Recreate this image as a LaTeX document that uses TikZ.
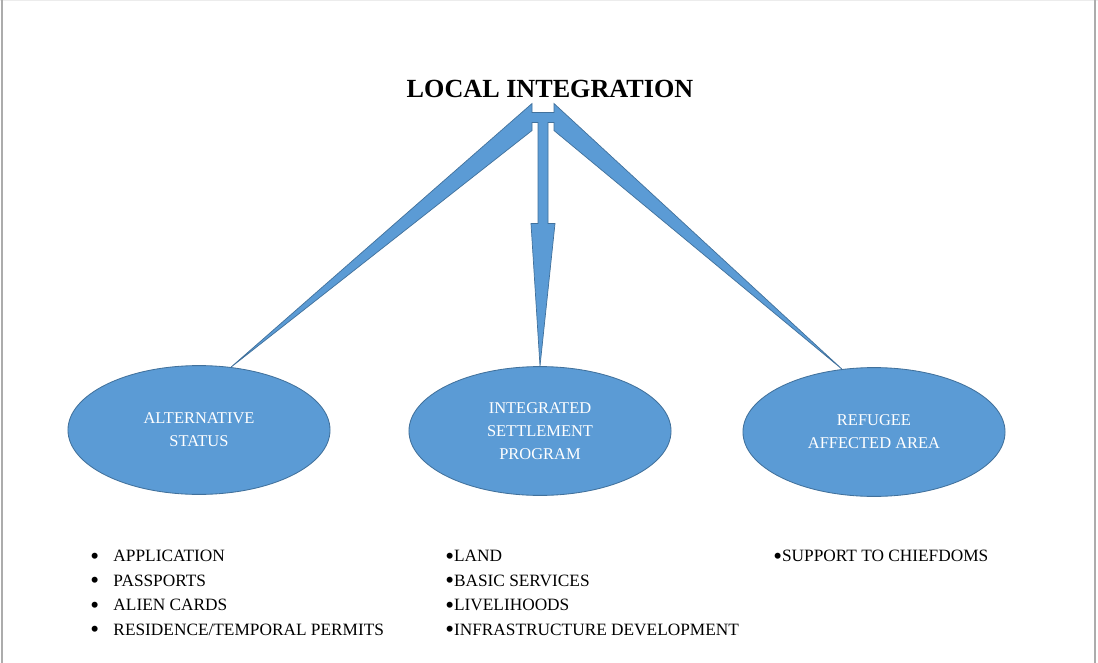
\documentclass[tikz,border=0pt]{standalone}
\usepackage{fontspec}
\setmainfont{Liberation Serif}
\usetikzlibrary{shapes.geometric,calc}
\definecolor{ovalblue}{HTML}{5B9BD5}
\definecolor{ovalline}{HTML}{41719C}
\newcommand{\dotmark}{\raisebox{-0.14em}{\scalebox{1.45}{\textbullet}}}

\begin{document}
\begin{tikzpicture}[x=0.025cm, y=-0.025cm,
			every node/.style = {inner sep=0pt},
			heading/.style = {font=\fontsize{18.6}{22}\selectfont\bfseries},
			bubble/.style = {ellipse, draw=ovalline, fill=ovalblue, line width=0.6pt,
				minimum width=6.55cm, minimum height=3.22cm, align=center,
				text=white, font=\fontsize{11.7}{16.5}\selectfont},
			spoke/.style = {draw=ovalline, fill=ovalblue, line width=0.5pt, line join=miter},
			items/.style = {align=left, anchor=north west, font=\fontsize{12.3}{17.4}\selectfont}]
			\useasboundingbox (0,0) rectangle (1098,663);
			\fill[white] (0,0) rectangle (1098,663);
			\draw[gray!15, line width=1pt] (0,0.5) -- (1098,0.5);
			\draw[gray!65, line width=2pt] (2,0) -- (2,663);
			\draw[gray!65, line width=2pt] (1095,0) -- (1095,663);

			\node[heading, anchor=base] (top) at (550,98) {LOCAL INTEGRATION};
			\node[bubble] (alt) at (199,430) {ALTERNATIVE\\STATUS};
			\node[bubble] (isp) at (540,431) {INTEGRATED\\SETTLEMENT\\PROGRAM};
			\node[bubble] (raa) at (874,432) {REFUGEE\\AFFECTED AREA};

			\coordinate (hub) at ($(top.south)+(-7,5)$);
			\filldraw[spoke] (alt.63) -- ($(hub)+(-11,0)$) -- ($(hub)+(-11,9)$)
				-- ($(hub)+(11,9)$) -- ($(hub)+(11,0)$) -- (raa.117)
				-- ($(hub)+(11,27)$) -- ($(hub)+(11,19)$) -- ($(hub)+(5,19)$) -- ($(hub)+(5,120)$)
				-- ($(hub)+(12,120)$) -- (isp.north) -- ($(hub)+(-12,120)$) -- ($(hub)+(-5,120)$)
				-- ($(hub)+(-5,19)$) -- ($(hub)+(-11,19)$) -- ($(hub)+(-11,27)$) -- cycle;

			\node[items] (altlist) at (90,550) {\makebox[16.5pt][l]{\dotmark}APPLICATION\\
				\makebox[16.5pt][l]{\dotmark}PASSPORTS\\
				\makebox[16.5pt][l]{\dotmark}ALIEN CARDS\\
				\makebox[16.5pt][l]{\dotmark}RESIDENCE/TEMPORAL PERMITS};
			\node[items] (isplist) at (445,550) {\dotmark LAND\\ \dotmark BASIC SERVICES\\
				\dotmark LIVELIHOODS\\ \dotmark INFRASTRUCTURE DEVELOPMENT};
			\node[items] (raalist) at (773,550) {\dotmark SUPPORT TO CHIEFDOMS};
\end{tikzpicture}
\end{document}
